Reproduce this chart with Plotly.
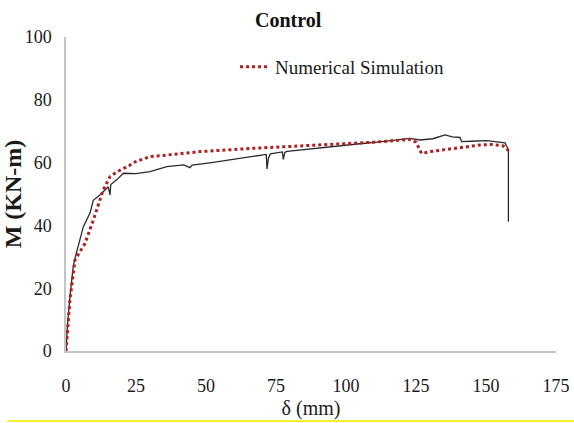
import plotly.graph_objects as go

# Experimental (Control) curve
exp_x = [0, 0.5, 1.4, 2.6, 3.2, 5, 6.2, 8.6, 9.75, 12.1, 15.1, 15.7, 16, 18.1, 20.5, 25, 30, 36, 42,
         44.3, 45, 52, 59.8, 66, 71.5, 71.8, 72.3, 73, 77.3, 77.6, 78.2, 79, 85, 92, 98, 105, 112, 119,
         122.9, 126.4, 131, 135.4, 138, 140.7, 141.3, 145, 150.2, 154, 156.8, 158, 158]
exp_y = [0, 8, 17.3, 27, 29.5, 35.4, 39.6, 44, 48, 49.7, 52.3, 49.7, 53, 54.5, 56.6, 56.5, 57.1, 58.7, 59.3,
         58.4, 59.2, 60, 61, 61.8, 62.6, 58, 61.5, 62.8, 63.4, 61, 63.3, 63.6, 64.2, 64.8, 65.3, 66, 66.6, 67.2,
         67.7, 67.2, 67.6, 68.8, 68.2, 68.0, 66.7, 66.8, 67.0, 66.6, 66.3, 64, 41.2]

# Numerical simulation curve
num_x = [0, 1.4, 3.2, 6.8, 9.75, 11, 13.3, 15.7, 18.1, 22.9, 24, 28.8, 30, 36, 47.9, 65.7, 76.4, 83.6,
         100, 110, 122.9, 125, 127, 130, 136, 147.9, 152, 156.2, 157.4, 158]
num_y = [0, 16.2, 29, 34.3, 41.7, 45, 51.3, 55.5, 57, 59.2, 60, 61.5, 61.9, 62.4, 63.5, 64.5, 65.0, 65.4,
         66, 66.5, 67.4, 66.5, 62.9, 63.5, 64.2, 65.6, 65.8, 65.3, 64.5, 63.8]

x_ticks = [0, 25, 50, 75, 100, 125, 150, 175]
y_ticks = [0, 20, 40, 60, 80, 100]

FONT = "Liberation Serif"

fig = go.Figure()
fig.add_trace(go.Scatter(x=exp_x, y=exp_y, mode="lines", name="Control",
                         line=dict(color="#2a2a2a", width=1.3), showlegend=False))
fig.add_trace(go.Scatter(x=num_x, y=num_y, mode="lines", name="Numerical Simulation",
                         line=dict(color="#b01e1e", width=3, dash="dot")))

fig.update_layout(
    width=574, height=423,
    margin=dict(l=66, r=18, t=37, b=72, autoexpand=False),
    paper_bgcolor="white", plot_bgcolor="white",
    font=dict(family=FONT, color="#222222"),
    legend=dict(x=0.345, y=0.905, xanchor="left", yanchor="middle",
                font=dict(family=FONT, size=19, color="#1a1a1a"),
                bgcolor="rgba(0,0,0,0)", itemwidth=30),
    xaxis=dict(range=[0, 175], tickvals=x_ticks, showgrid=False, zeroline=False, automargin=False,
               showline=True, linecolor="#c4c4c4", linewidth=1.5, ticks="",
               tickfont=dict(family=FONT, size=18, color="#1a1a1a"), ticklabelstandoff=18,
               title=dict(text="δ (mm)", font=dict(family=FONT, size=20, color="#1a1a1a"), standoff=6)),
    yaxis=dict(range=[0, 100], tickvals=y_ticks, showgrid=False, zeroline=False, automargin=False,
               showline=True, linecolor="#c4c4c4", linewidth=1.5, ticks="",
               tickfont=dict(family=FONT, size=18, color="#1a1a1a"), ticklabelstandoff=9,
               title=dict(text="<b>M (KN-m)</b>", font=dict(family=FONT, size=24, color="#1a1a1a"),
                          standoff=5)),
    annotations=[dict(text="<b>Control</b>", xref="paper", yref="paper",
                      x=0.455, y=1.054, xanchor="center", yanchor="middle", showarrow=False,
                      font=dict(family=FONT, size=20, color="#111111"))],
    shapes=[dict(type="line", xref="paper", yref="paper", x0=-0.12, x1=1.04,
                 y0=-0.2229, y1=-0.2229, line=dict(color="#f5f030", width=2))],
)

fig.write_html("out.html")
